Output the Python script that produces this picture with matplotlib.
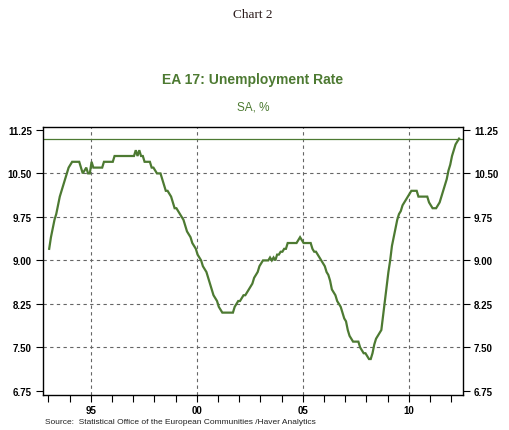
import matplotlib
matplotlib.use("Agg")
import matplotlib.pyplot as plt
from matplotlib.ticker import FixedLocator, MultipleLocator
import numpy as np

# ---- data (monthly, Jan 1993 .. May 2012) ----
start_year = 1993
rate_1993 = [9.2, 9.4, 9.55, 9.7, 9.8, 9.95, 10.1, 10.2, 10.3, 10.4, 10.5, 10.6]
rate_1994 = [10.65, 10.7, 10.7, 10.7, 10.7, 10.7, 10.6, 10.5, 10.55, 10.6, 10.5, 10.5]
rate_1995 = [10.7, 10.6, 10.6, 10.6, 10.6, 10.6, 10.6, 10.7, 10.7, 10.7, 10.7, 10.7]
rate_1996 = [10.7, 10.8, 10.8, 10.8, 10.8, 10.8, 10.8, 10.8, 10.8, 10.8, 10.8, 10.8]
rate_1997 = [10.8, 10.9, 10.8, 10.9, 10.8, 10.8, 10.7, 10.7, 10.7, 10.7, 10.6, 10.6]
rate_1998 = [10.55, 10.5, 10.5, 10.5, 10.4, 10.3, 10.2, 10.2, 10.15, 10.1, 10.0, 9.9]
rate_1999 = [9.9, 9.85, 9.8, 9.75, 9.7, 9.6, 9.5, 9.45, 9.4, 9.3, 9.25, 9.2]
rate_2000 = [9.1, 9.05, 9.0, 8.9, 8.85, 8.8, 8.7, 8.6, 8.5, 8.4, 8.35, 8.3]
rate_2001 = [8.2, 8.15, 8.1, 8.1, 8.1, 8.1, 8.1, 8.1, 8.1, 8.2, 8.25, 8.3]
rate_2002 = [8.3, 8.35, 8.4, 8.4, 8.45, 8.5, 8.55, 8.6, 8.7, 8.75, 8.8, 8.9]
rate_2003 = [8.95, 9.0, 9.0, 9.0, 9.0, 9.05, 9.0, 9.05, 9.0, 9.1, 9.1, 9.15]
rate_2004 = [9.15, 9.2, 9.2, 9.3, 9.3, 9.3, 9.3, 9.3, 9.3, 9.35, 9.4, 9.35]
rate_2005 = [9.3, 9.3, 9.3, 9.3, 9.3, 9.2, 9.15, 9.15, 9.1, 9.05, 9.0, 8.95]
rate_2006 = [8.9, 8.8, 8.75, 8.65, 8.5, 8.45, 8.4, 8.3, 8.25, 8.2, 8.1, 8.0]
rate_2007 = [7.95, 7.8, 7.7, 7.65, 7.6, 7.6, 7.6, 7.6, 7.5, 7.45, 7.4, 7.4]
rate_2008 = [7.35, 7.3, 7.3, 7.4, 7.55, 7.65, 7.7, 7.75, 7.8, 8.05, 8.3, 8.55]
rate_2009 = [8.8, 9.0, 9.25, 9.4, 9.55, 9.7, 9.8, 9.85, 9.95, 10.0, 10.05, 10.1]
rate_2010 = [10.15, 10.2, 10.2, 10.2, 10.2, 10.1, 10.1, 10.1, 10.1, 10.1, 10.1, 10.0]
rate_2011 = [9.95, 9.9, 9.9, 9.9, 9.95, 10.0, 10.1, 10.2, 10.3, 10.4, 10.55, 10.65]
rate_2012 = [10.8, 10.9, 11.0, 11.05, 11.1]

latest_level = 11.1

y_ticks = [6.75, 7.50, 8.25, 9.00, 9.75, 10.50, 11.25]
y_tick_labels = ["6.75", "7.50", "8.25", "9.00", "9.75", "10.50", "11.25"]
x_major = [1995, 2000, 2005, 2010]
x_major_labels = ["95", "00", "05", "10"]

rates = (rate_1993 + rate_1994 + rate_1995 + rate_1996 + rate_1997 + rate_1998 +
         rate_1999 + rate_2000 + rate_2001 + rate_2002 + rate_2003 + rate_2004 +
         rate_2005 + rate_2006 + rate_2007 + rate_2008 + rate_2009 + rate_2010 +
         rate_2011 + rate_2012)
t = start_year + (np.arange(len(rates)) + 0.5) / 12.0

GREEN = "#4d7a32"

fig = plt.figure(figsize=(5.10, 4.31), dpi=100)
fig.patch.set_facecolor("white")
ax = fig.add_axes([43/510, 1-396/431, (463-43)/510, (396-128)/431])

ax.plot(t, rates, color=GREEN, lw=1.6, solid_joinstyle="miter", zorder=3)
ax.axhline(latest_level, color=GREEN, lw=0.9, zorder=2)

ax.set_xlim(1992.75, 2012.56)
ax.set_ylim(6.68, 11.30)

ax.xaxis.set_major_locator(FixedLocator(x_major))
ax.xaxis.set_minor_locator(MultipleLocator(1))
ax.set_xticks(x_major)
ax.set_xticklabels(x_major_labels, fontsize=7, fontweight="bold", family="Liberation Sans")
ax.set_yticks(y_ticks)
ax.set_yticklabels(y_tick_labels, fontsize=7, fontweight="bold", family="Liberation Sans")

ax.tick_params(axis="x", which="both", direction="out", length=5, width=0.8,
               pad=2.5, bottom=True, top=False)
ax.tick_params(axis="y", which="both", direction="out", length=5, width=0.8,
               left=True, right=True, labelleft=True, labelright=True, pad=3)

ax.grid(axis="both", which="major", color="#666666", linestyle=(0, (3, 3)), lw=0.8)
ygl = ax.get_ygridlines()
ygl[0].set_visible(False)
ygl[-1].set_visible(False)
for s in ax.spines.values():
    s.set_color("black")
    s.set_linewidth(1.0)

fig.text(253/510, 1-15/431, "Chart 2", ha="center", va="center",
         fontsize=9.5, family="Liberation Serif", color="#2a1a1a")
fig.text(253/510, 1-80/431, "EA 17: Unemployment Rate", ha="center", va="center",
         fontsize=10, fontweight="bold", family="Liberation Sans", color="#4d7a32")
fig.text(253/510, 1-107/431, "SA, %", ha="center", va="center",
         fontsize=8.5, family="Liberation Sans", color="#4d7a32")
fig.text(45/510, 1-423/431,
         "Source:  Statistical Office of the European Communities /Haver Analytics",
         ha="left", va="center", fontsize=6, family="Liberation Sans", color="#222222")

fig.savefig("out.png", dpi=100)
